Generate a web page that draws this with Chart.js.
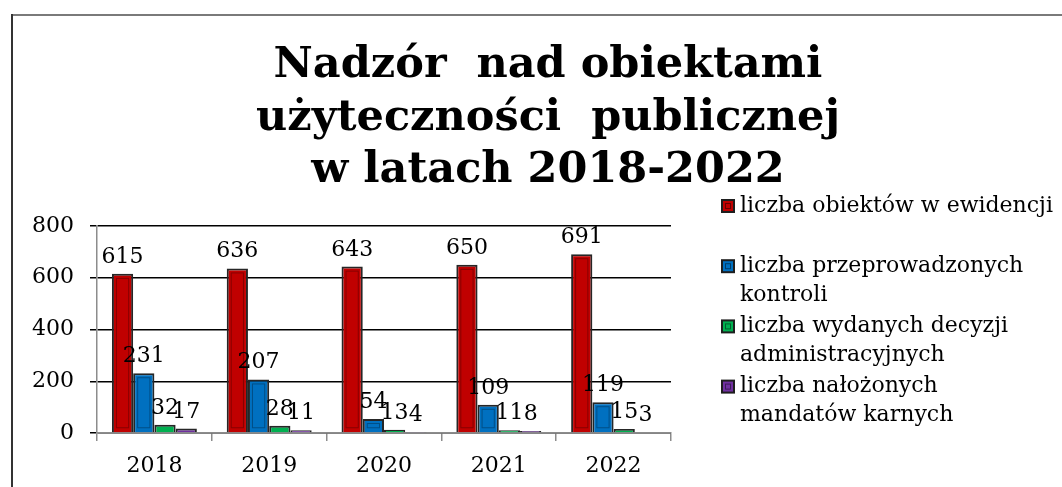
<!DOCTYPE html>
<html lang="pl">
<head>
    <meta charset="UTF-8">
    <title>Nadzór nad obiektami użyteczności publicznej</title>
    <script src="https://cdn.jsdelivr.net/npm/chart.js@4"></script>
    <style>
        body {
            margin: 0;
            background: #ffffff;
        }
        canvas {
            display: block;
        }
    </style>
</head>
<body>
    <canvas id="wykres" width="1062" height="487"></canvas>

    <script>
        // dane
        const lata = ['2018', '2019', '2020', '2021', '2022'];
        const obiekty = [615, 636, 643, 650, 691];
        const kontrole = [231, 207, 54, 109, 119];
        const decyzje = [32, 28, 13, 11, 15];
        const mandaty = [17, 11, 4, 8, 3];

        const tytul = ['Nadzór  nad obiektami', 'użyteczności  publicznej', 'w latach 2018-2022'];
        const serie = [
            ['liczba obiektów w ewidencji'],
            ['liczba przeprowadzonych', 'kontroli'],
            ['liczba wydanych decyzji', 'administracyjnych'],
            ['liczba nałożonych', 'mandatów karnych']
        ];
        const yTicks = [0, 200, 400, 600, 800];

        const kolory = ['#C00000', '#0070C0', '#00B050', '#7030A0'];
        const FONT = '"DejaVu Serif", "Liberation Serif", serif';

        // ramka, tytuł, legenda i etykiety rysowane na płótnie
        const ramka = {
            id: 'ramka',
            beforeDraw(chart) {
                const ctx = chart.ctx;
                ctx.save();
                ctx.fillStyle = '#ffffff';
                ctx.fillRect(0, 0, chart.width, chart.height);
                ctx.lineWidth = 2;
                ctx.strokeStyle = '#7a7a7a';
                ctx.beginPath();
                ctx.moveTo(11, 15);
                ctx.lineTo(chart.width, 15);
                ctx.stroke();
                ctx.strokeStyle = '#333333';
                ctx.beginPath();
                ctx.moveTo(12, 14);
                ctx.lineTo(12, chart.height);
                ctx.stroke();
                ctx.restore();
            },
            afterDraw(chart) {
                const ctx = chart.ctx;
                ctx.save();
                ctx.fillStyle = '#000000';
                ctx.font = 'bold 43px ' + FONT;
                ctx.textAlign = 'center';
                ctx.textBaseline = 'alphabetic';
                tytul.forEach((t, i) => ctx.fillText(t, 548, 77 + i * 52.5));

                // legenda
                ctx.font = '22px ' + FONT;
                ctx.textAlign = 'left';
                ctx.textBaseline = 'middle';
                chart.data.datasets.forEach((ds, i) => {
                    const y0 = 206 + i * 60.2;
                    ctx.fillStyle = '#1e1e1e';
                    ctx.fillRect(721, y0 - 7, 14, 14);
                    ctx.fillStyle = ds.backgroundColor;
                    ctx.fillRect(723, y0 - 5, 10, 10);
                    ctx.strokeStyle = 'rgba(0,0,0,0.45)';
                    ctx.lineWidth = 1;
                    ctx.strokeRect(725.5, y0 - 2.5, 5, 5);
                    ctx.fillStyle = '#000000';
                    serie[i].forEach((linia, j) => ctx.fillText(linia, 740, y0 + j * 29));
                });
                ctx.restore();
            },
            afterDatasetsDraw(chart) {
                const ctx = chart.ctx;
                ctx.save();
                // wewnętrzna ramka słupków (efekt fazy)
                ctx.strokeStyle = 'rgba(0,0,0,0.3)';
                ctx.lineWidth = 1;
                chart.data.datasets.forEach((ds, i) => {
                    chart.getDatasetMeta(i).data.forEach(bar => {
                        const h = bar.base - bar.y;
                        if (h > 10) {
                            ctx.strokeRect(bar.x - bar.width / 2 + 4.5, bar.y + 4.5, bar.width - 9, h - 9);
                        }
                    });
                });

                ctx.fillStyle = '#000000';
                ctx.font = '22px ' + FONT;
                ctx.textAlign = 'center';
                ctx.textBaseline = 'alphabetic';
                chart.data.datasets.forEach((ds, i) => {
                    chart.getDatasetMeta(i).data.forEach((bar, j) => {
                        ctx.fillText(String(ds.data[j]), bar.x, bar.y - 11);
                    });
                });
                ctx.restore();
            }
        };

        const dane = [obiekty, kontrole, decyzje, mandaty];

        new Chart(document.getElementById('wykres'), {
            type: 'bar',
            data: {
                labels: lata,
                datasets: dane.map((d, i) => ({
                    label: serie[i].join(' '),
                    data: d,
                    backgroundColor: kolory[i],
                    borderColor: '#262626',
                    borderWidth: 2,
                    barPercentage: 1,
                    categoryPercentage: 0.74
                }))
            },
            options: {
                responsive: false,
                animation: false,
                devicePixelRatio: 1,
                layout: {
                    padding: { left: 0, right: 391, top: 226, bottom: 0 }
                },
                plugins: {
                    legend: { display: false },
                    title: { display: false },
                    tooltip: { enabled: false }
                },
                scales: {
                    x: {
                        afterFit: s => { s.height = 54; },
                        grid: {
                            drawOnChartArea: false,
                            drawTicks: true,
                            tickLength: 8,
                            color: '#8c8c8c',
                            lineWidth: 1.5
                        },
                        border: { color: '#8c8c8c', width: 1.5 },
                        ticks: {
                            color: '#000000',
                            padding: 12,
                            font: { family: FONT, size: 22 }
                        }
                    },
                    y: {
                        min: 0,
                        max: 800,
                        afterFit: s => { s.width = 97; },
                        afterBuildTicks: s => { s.ticks = yTicks.map(v => ({ value: v })); },
                        grid: {
                            color: '#000000',
                            lineWidth: 1.5,
                            tickLength: 7
                        },
                        border: { color: '#8c8c8c', width: 1.5 },
                        ticks: {
                            color: '#000000',
                            padding: 16,
                            font: { family: FONT, size: 22 }
                        }
                    }
                }
            },
            plugins: [ramka]
        });
    </script>
</body>
</html>
